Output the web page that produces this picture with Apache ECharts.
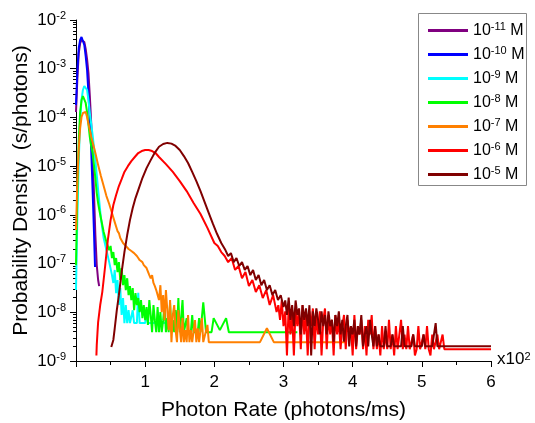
<!DOCTYPE html>
<html><head><meta charset="utf-8">
<script src="https://cdn.jsdelivr.net/npm/echarts@6/dist/echarts.min.js"></script>
<style>html,body{margin:0;padding:0;background:#fff}#c{width:535px;height:423px}</style>
</head><body><div id="c"></div>
<script>
const seriesNames = ['10^-11 M','10^-10 M','10^-9 M','10^-8 M','10^-7 M','10^-6 M','10^-5 M'];
const seriesColors = ['#800080','#0000ff','#00ffff','#00ff00','#ff8000','#ff0000','#800000'];
const yExponents = [-9,-8,-7,-6,-5,-4,-3,-2];
const xTickValues = [1,2,3,4,5,6];

const c11 = [[0,1.29e-4],[0.02,6.4e-4],[0.04,2.1e-3],[0.06,3.37e-3],[0.08,3.88e-3],[0.10,4.07e-3],[0.12,3.53e-3],[0.14,2.54e-3],[0.16,1.58e-3],[0.18,8.2e-4],[0.20,2.75e-4],[0.22,7.7e-5],[0.24,1.86e-5],[0.26,2.8e-6],[0.28,3.85e-7],[0.30,9.3e-8],[0.32,4.6e-8],[0.335,3.45e-8]];

const c10 = [[0,1.8e-4],[0.02,9.4e-4],[0.04,2.66e-3],[0.06,3.88e-3],[0.08,4.48e-3],[0.10,4.27e-3],[0.12,3.07e-3],[0.14,1.82e-3],[0.16,9.4e-4],[0.18,3.17e-4],[0.20,8.85e-5],[0.22,2.14e-5],[0.24,3.23e-6],[0.26,4.44e-7],[0.275,8.5e-8]];

const c9 = [[0,2.86e-8],[0.02,9.9e-7],[0.04,1.33e-5],[0.06,8.85e-5],[0.08,2.28e-4],[0.10,3.66e-4],[0.12,4.42e-4],[0.14,4.42e-4],[0.16,3.66e-4],[0.18,2.28e-4],[0.20,1.23e-4],[0.24,4.35e-5],[0.28,1.33e-5],[0.32,3.23e-6],[0.36,8.6e-7],[0.40,3.34e-7],[0.44,1.89e-7],[0.48,1.07e-7],[0.52,5.8e-8],[0.54,4.0e-8],[0.56,7.4e-8],[0.58,2.48e-8],[0.60,4.6e-8],[0.62,1.41e-8],[0.64,3.14e-8],[0.66,8.8e-9],[0.68,1.96e-8],[0.70,6.0e-9],[0.72,1.41e-8],[0.74,6.0e-9],[0.76,1.11e-8],[0.78,6.0e-9],[0.80,6.0e-9],[0.82,1.1e-8],[0.84,6.0e-9],[0.88,6.0e-9],[0.90,2.5e-8],[0.92,6.0e-9],[1.00,6.0e-9],[1.02,1.1e-8],[1.04,6.0e-9],[1.30,6.0e-9]];

const c8 = [[0,9.3e-8],[0.02,3.23e-6],[0.04,3.44e-5],[0.06,1.29e-4],[0.08,2.28e-4],[0.10,2.75e-4],[0.12,2.62e-4],[0.14,1.98e-4],[0.16,1.29e-4],[0.18,7.3e-5],[0.20,3.96e-5],[0.22,2.59e-5],[0.24,1.86e-5],[0.26,1.05e-5],[0.28,5.7e-6],[0.30,2.8e-6],[0.32,1.75e-6],[0.34,1.2e-6],[0.36,8.6e-7],[0.38,6.2e-7],[0.40,4.44e-7],[0.44,2.76e-7],[0.48,1.89e-7],
[0.50,2.3e-7],[0.52,1.3e-7],[0.54,1.72e-7],[0.56,9.3e-8],[0.58,1.3e-7],[0.60,6.7e-8],[0.62,1.07e-7],[0.64,4.6e-8],[0.66,8.1e-8],[0.68,3.6e-8],[0.70,5.8e-8],[0.72,2.86e-8],[0.74,5.0e-8],[0.76,2.25e-8],[0.78,3.45e-8],[0.80,1.78e-8],[0.82,3.14e-8],[0.84,1.11e-8],[0.86,2.48e-8],[0.88,1.41e-8],[0.90,1.96e-8],[0.92,1.01e-8],[0.94,1.78e-8],[0.96,7.6e-9],[0.98,1.41e-8],[1.00,6.9e-9],[1.02,1.28e-8],[1.04,5.5e-9],[1.06,1.78e-8],[1.08,8.8e-9],[1.10,3.9e-9],[1.12,1.41e-8],[1.14,6.9e-9],[1.16,3.9e-9],[1.18,1.28e-8],[1.20,3.9e-9],[1.22,1.01e-8],[1.24,3.9e-9],[1.26,6.9e-9],[1.28,1.41e-8],[1.30,3.9e-9],[1.32,7.6e-9],[1.34,3.9e-9],[1.36,1.55e-8],[1.38,3.9e-9],[1.40,6.9e-9],[1.42,3.9e-9],[1.44,1.11e-8],[1.46,3.9e-9],[1.48,1.96e-8],[1.50,3.9e-9],[1.52,7.6e-9],[1.54,1.78e-8],[1.56,3.9e-9],[1.58,3.9e-9],[1.60,7.6e-9],[1.62,3.9e-9],[1.66,3.9e-9],[1.68,8.8e-9],[1.70,3.9e-9],[1.76,3.9e-9],[1.78,7.6e-9],[1.80,3.9e-9],[1.84,1.6e-8],[1.88,3.9e-9],[1.96,3.9e-9],[1.99,7.6e-9],[2.08,4.3e-9],[2.17,7.6e-9],[2.21,3.9e-9],[3.20,3.9e-9]];

const c7 = [[0,4.9e-7],[0.02,5.2e-6],[0.04,2.35e-5],[0.06,6.0e-5],[0.08,1.02e-4],[0.10,1.23e-4],[0.12,1.35e-4],[0.14,1.29e-4],[0.16,1.02e-4],[0.18,7.3e-5],[0.20,5.5e-5],[0.22,3.96e-5],[0.24,3.13e-5],[0.28,1.86e-5],[0.32,1.05e-5],[0.36,6.3e-6],[0.40,3.9e-6],[0.44,2.43e-6],[0.48,1.67e-6],[0.52,1.09e-6],[0.56,7.1e-7],[0.60,4.65e-7],[0.62,4.23e-7],[0.64,3.34e-7],[0.66,3.04e-7],[0.68,2.64e-7],[0.70,2.76e-7],[0.72,2.29e-7],[0.74,2.18e-7],[0.76,1.99e-7],[0.78,1.99e-7],[0.80,1.81e-7],[0.82,1.72e-7],[0.84,1.64e-7],[0.86,1.5e-7],[0.88,1.43e-7],[0.90,1.3e-7],[0.92,1.18e-7],[0.94,1.12e-7],[0.96,1.07e-7],[0.98,9.3e-8],[1.00,8.9e-8],[1.02,8.1e-8],[1.04,7.4e-8],[1.06,5.8e-8],[1.08,5.0e-8],[1.10,5.8e-8],[1.12,4.0e-8],[1.14,3.45e-8],[1.16,2.86e-8],[1.18,3.14e-8],[1.20,1.78e-8],
[1.22,3.6e-8],[1.24,1.01e-8],[1.26,2.25e-8],[1.28,6.9e-9],[1.30,2.86e-8],[1.32,1.11e-8],[1.34,4.3e-9],[1.36,1.78e-8],[1.38,2.44e-9],[1.40,8.8e-9],[1.42,1.41e-8],[1.44,4.3e-9],[1.46,2.44e-9],[1.48,1.11e-8],[1.50,4.7e-9],[1.52,2.44e-9],[1.54,7.6e-9],[1.56,2.44e-9],[1.58,4.3e-9],[1.60,2.44e-9],[1.62,8.8e-9],[1.64,2.44e-9],[1.66,4.3e-9],[1.68,2.44e-9],[1.70,2.44e-9],[1.72,6.9e-9],[1.74,2.44e-9],[1.76,4.7e-9],[1.78,2.44e-9],[1.82,7.6e-9],[1.84,2.44e-9],[1.90,5.5e-9],[1.92,2.44e-9],[2.66,2.44e-9],[2.76,4.7e-9],[2.86,2.44e-9],[3.90,2.44e-9]];

const c6 = [[0.295,1.3e-9],[0.30,2.12e-9],[0.31,3.7e-9],[0.32,6.3e-9],[0.35,1.41e-8],[0.38,2.6e-8],[0.42,8.5e-8],[0.46,3.04e-7],[0.50,7.8e-7],[0.54,1.59e-6],[0.58,2.55e-6],[0.62,3.9e-6],[0.66,5.4e-6],[0.70,7.6e-6],[0.75,1.0e-5],[0.80,1.27e-5],[0.85,1.54e-5],[0.90,1.86e-5],[0.95,2.04e-5],[1.00,2.14e-5],[1.05,2.14e-5],[1.10,2.04e-5],[1.15,1.86e-5],[1.20,1.54e-5],[1.30,1.10e-5],[1.40,7.6e-6],[1.50,4.94e-6],[1.60,3.08e-6],[1.70,1.75e-6],[1.80,1.04e-6],[1.90,5.4e-7],[2.00,2.64e-7],[2.05,2.29e-7],[2.10,1.72e-7],[2.15,1.43e-7],[2.20,1.07e-7],[2.25,1.3e-7],[2.30,7.4e-8],[2.35,8.9e-8],[2.40,5.0e-8],[2.45,6.7e-8],[2.50,3.45e-8],[2.55,4.6e-8],[2.60,2.6e-8],[2.65,3.6e-8],[2.70,1.96e-8],[2.75,2.86e-8],[2.80,1.41e-8],[2.85,2.25e-8],[2.90,1.01e-8],
[2.925,1.4e-8],[2.95,7e-9],[2.975,1.75e-8],[3.00,5.2e-9],[3.025,1.05e-8],[3.05,1.3e-9],[3.075,1.4e-8],[3.10,3.5e-9],[3.125,8.8e-9],[3.15,1.3e-9],[3.175,1.2e-8],[3.20,5.2e-9],[3.225,1.05e-8],[3.25,1.75e-9],[3.275,1.4e-8],[3.30,3.5e-9],[3.325,8.8e-9],[3.35,1.3e-9],[3.375,1.05e-8],[3.40,5.2e-9],[3.425,1.2e-8],[3.45,1.75e-9],[3.475,8.8e-9],[3.50,3.5e-9],[3.525,1.05e-8],[3.55,1.3e-9],[3.575,7e-9],[3.60,1.2e-8],[3.625,1.75e-9],[3.65,8.8e-9],[3.675,3.5e-9],[3.70,7e-9],[3.725,1.3e-9],[3.75,8.8e-9],[3.775,3.5e-9],[3.80,7e-9],[3.825,1.75e-9],[3.85,5.2e-9],[3.875,8.8e-9],[3.90,1.75e-9],[3.925,7e-9],[3.95,3.5e-9],[3.975,5.2e-9],[4.00,1.3e-9],[4.025,8.8e-9],[4.05,1.75e-9],[4.075,5.2e-9],[4.10,3.5e-9],[4.125,7e-9],[4.15,1.75e-9],[4.175,5.2e-9],[4.20,1.3e-9],[4.225,7e-9],[4.25,3.5e-9],[4.275,8.8e-9],[4.30,1.75e-9],[4.325,5.2e-9],[4.35,1.75e-9],[4.375,3.5e-9],[4.40,1.3e-9],[4.425,5.2e-9],[4.45,1.75e-9],[4.475,3.5e-9],[4.50,1.75e-9],[4.525,7e-9],[4.55,1.75e-9],[4.575,3.5e-9],[4.60,1.3e-9],[4.625,5.2e-9],[4.65,1.75e-9],[4.675,1.75e-9],[4.70,7e-9],[4.725,1.75e-9],[4.75,3.5e-9],[4.775,1.75e-9],[4.80,5.2e-9],[4.825,1.75e-9],[4.85,1.75e-9],[4.875,3.5e-9],[4.90,1.3e-9],[4.925,1.75e-9],[4.95,5.2e-9],[4.975,1.75e-9],[5.00,1.75e-9],[5.025,3.5e-9],[5.05,1.75e-9],[5.075,5.2e-9],[5.10,1.75e-9],[5.125,1.3e-9],[5.15,3.5e-9],[5.175,1.75e-9],[5.20,1.75e-9],[5.225,3.5e-9],[5.25,1.75e-9],[5.30,3.5e-9],[5.325,1.75e-9],[6.00,1.75e-9]];

const c5 = [[0.51,1.93e-9],[0.53,1.93e-9],[0.54,2.7e-9],[0.56,4.7e-9],[0.59,1.11e-8],[0.62,2.25e-8],[0.66,6.7e-8],[0.70,1.72e-7],[0.74,3.85e-7],[0.78,7.8e-7],[0.82,1.38e-6],[0.86,2.21e-6],[0.90,3.23e-6],[0.96,5.7e-6],[1.02,9.1e-6],[1.08,1.33e-5],[1.14,1.9e-5],[1.20,2.5e-5],[1.26,2.85e-5],[1.32,3.0e-5],[1.38,2.9e-5],[1.44,2.6e-5],[1.50,2.14e-5],[1.56,1.61e-5],[1.62,1.16e-5],[1.68,7.6e-6],[1.74,4.94e-6],[1.80,3.08e-6],[1.86,1.83e-6],[1.92,1.09e-6],[1.98,6.5e-7],[2.04,4.04e-7],[2.10,2.64e-7],[2.16,1.89e-7],[2.20,1.43e-7],[2.24,1.64e-7],[2.28,1.07e-7],[2.32,1.3e-7],[2.36,8.9e-8],[2.40,1.07e-7],[2.44,7.4e-8],[2.48,8.9e-8],[2.52,5.8e-8],[2.56,7.4e-8],[2.60,4.6e-8],[2.64,5.8e-8],[2.68,3.6e-8],[2.72,4.6e-8],[2.76,2.86e-8],[2.80,3.6e-8],[2.84,2.25e-8],[2.88,2.86e-8],[2.92,1.78e-8],[2.96,2.25e-8],[3.00,1.28e-8],
[3.025,1.75e-8],[3.05,8.8e-9],[3.075,2e-8],[3.10,7e-9],[3.125,1.4e-8],[3.15,5.2e-9],[3.175,1.75e-8],[3.20,8.8e-9],[3.225,1.2e-8],[3.25,3.5e-9],[3.275,1.4e-8],[3.30,7e-9],[3.325,1.2e-8],[3.35,5.2e-9],[3.375,1.4e-8],[3.40,1.3e-9],[3.425,1.05e-8],[3.45,5.2e-9],[3.475,1.2e-8],[3.50,7e-9],[3.525,3.5e-9],[3.55,1.05e-8],[3.575,5.2e-9],[3.60,8.8e-9],[3.625,3.5e-9],[3.65,1.05e-8],[3.675,5.2e-9],[3.70,7e-9],[3.725,2.5e-9],[3.75,8.8e-9],[3.775,5.2e-9],[3.80,1.05e-8],[3.825,3.5e-9],[3.85,7e-9],[3.875,2.5e-9],[3.90,5.2e-9],[3.925,8.8e-9],[3.95,2e-9],[3.975,5.2e-9],[4.00,3.5e-9],[4.025,7e-9],[4.05,2e-9],[4.075,5.2e-9],[4.10,3.5e-9],[4.125,8.8e-9],[4.15,2e-9],[4.175,3.5e-9],[4.20,5.2e-9],[4.225,2e-9],[4.25,7e-9],[4.275,3.5e-9],[4.30,2e-9],[4.325,5.2e-9],[4.35,2e-9],[4.375,3.5e-9],[4.40,2e-9],[4.45,2e-9],[4.475,5.2e-9],[4.50,2e-9],[4.55,2e-9],[4.575,3.5e-9],[4.60,2e-9],[4.70,2e-9],[4.725,5.2e-9],[4.75,2e-9],[4.85,2e-9],[4.875,3.5e-9],[4.90,2e-9],[5.00,2e-9],[5.025,3.5e-9],[5.05,2e-9],[5.15,2e-9],[5.20,6e-9],[5.225,2e-9],[6.00,2e-9]];

const seriesData = [c11, c10, c9, c8, c7, c6, c5];

const FONT = 'Liberation Sans, Arial, sans-serif';
const supFmt = s => s.replace(/\^(-?\d+)/, '{sup|$1}');

const chart = echarts.init(document.getElementById('c'), null, {renderer: 'canvas'});
chart.setOption({
  animation: false,
  backgroundColor: '#fff',
  grid: {left: 76, right: 44, top: 20, bottom: 62, containLabel: false, outerBoundsMode: 'none'},
  xAxis: {
    type: 'value', min: 0, max: 6, interval: 1,
    name: 'Photon Rate (photons/ms)', nameLocation: 'middle', nameGap: 39, nameMoveOverlap: false,
    nameTextStyle: {fontFamily: FONT, fontSize: 21, color: '#000'},
    axisLine: {show: true, lineStyle: {color: '#000', width: 1}},
    axisTick: {show: true, inside: false, length: 6, lineStyle: {color: '#000'}},
    minorTick: {show: true, splitNumber: 2, length: 4, lineStyle: {color: '#000'}},
    splitLine: {show: false},
    axisLabel: {fontFamily: FONT, fontSize: 17, color: '#000', margin: 13,
      formatter: v => xTickValues.indexOf(v) >= 0 ? String(v) : ''}
  },
  yAxis: {
    type: 'log', logBase: 10, min: 1e-9, max: 1e-2,
    name: 'Probability Density  (s/photons)', nameLocation: 'middle', nameGap: 44, nameMoveOverlap: false,
    nameTextStyle: {fontFamily: FONT, fontSize: 21, color: '#000'},
    axisLine: {show: true, lineStyle: {color: '#000', width: 1}},
    axisTick: {show: true, inside: false, length: 6, lineStyle: {color: '#000'}},
    minorTick: {show: true, splitNumber: 9, length: 3, lineStyle: {color: '#000'}},
    splitLine: {show: false},
    axisLabel: {fontFamily: FONT, fontSize: 17, color: '#000', margin: 10, lineHeight: 20,
      formatter: v => {
        const e = Math.round(Math.log10(v));
        return yExponents.indexOf(e) >= 0 ? '10{sup|' + e + '}' : '';
      },
      rich: {sup: {fontFamily: FONT, fontSize: 11, color: '#000', verticalAlign: 'top'}}
    }
  },
  legend: {
    orient: 'vertical', left: 428, top: 21, padding: 0,
    icon: 'rect', itemWidth: 40, itemHeight: 3, itemGap: 5,
    data: seriesNames,
    formatter: supFmt,
    textStyle: {fontFamily: FONT, fontSize: 16, color: '#000', lineHeight: 19,
      rich: {sup: {fontFamily: FONT, fontSize: 11, color: '#000', verticalAlign: 'top'}}}
  },
  graphic: [
    {type: 'rect', shape: {x: 418.5, y: 13.5, width: 108, height: 172},
      style: {fill: 'none', stroke: '#888', lineWidth: 1}},
    {type: 'text', left: 497, top: 351,
      style: {text: 'x10{sup|2}', fontFamily: FONT, fontSize: 17, fill: '#000',
        rich: {sup: {fontFamily: FONT, fontSize: 11, fill: '#000', verticalAlign: 'top'}}}}
  ],
  series: seriesData.map((d, i) => ({
    name: seriesNames[i], type: 'line', data: d, symbol: 'none', showSymbol: false,
    lineStyle: {color: seriesColors[i], width: 2}, itemStyle: {color: seriesColors[i]},
    emphasis: {disabled: true}, clip: true
  }))
});
</script></body></html>
